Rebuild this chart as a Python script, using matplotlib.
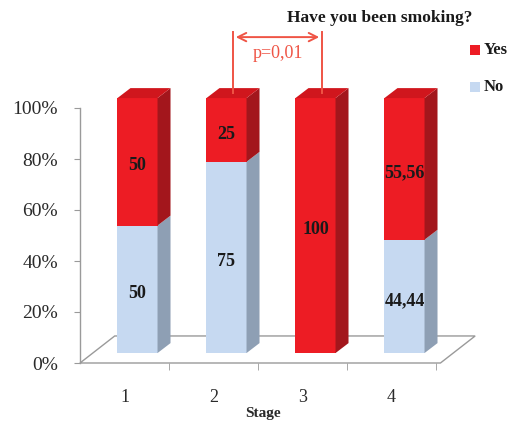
import matplotlib
matplotlib.use("Agg")
import matplotlib.pyplot as plt
from matplotlib.patches import Polygon
from matplotlib.ticker import FixedLocator

plt.rcParams['font.family'] = ['Liberation Serif', 'DejaVu Serif']

stages = ["1", "2", "3", "4"]
yes_vals = [50, 25, 100, 55.56]
no_vals = [50, 75, 0, 44.44]
yes_labels = ["50", "25", "100", "55,56"]
no_labels = ["50", "75", "", "44,44"]
y_ticks = [0, 20, 40, 60, 80, 100]

RED = '#ED1C24'
RED_SIDE = '#A3161C'
RED_TOP = '#D0161D'
BLUE = '#C6D9F1'
BLUE_SIDE = '#8E9FB4'
AXIS = '#9A9A9A'
TXT = '#2a2a2a'

fig = plt.figure(figsize=(5.13, 4.22), dpi=100)
ax = fig.add_axes([80 / 513, 59 / 422, 356 / 513, 255 / 422])
ax.set_xlim(-0.5, 3.5)
ax.set_ylim(0, 100)

# pseudo-3D depth (data units)
dx, dy = 0.146, 3.9
width = 0.45
floor_dx, floor_dy = 0.39, 10.6
label_shift = 1.6

# floor
floor = Polygon([(-0.5, 0), (3.55, 0), (3.55 + floor_dx, floor_dy), (-0.5 + floor_dx, floor_dy)],
                closed=True, facecolor='white', edgecolor=AXIS, lw=1.0, clip_on=False, zorder=1)
ax.add_patch(floor)


def draw_segment(xc, y0, y1, front, side):
    xl, xr = xc - width / 2, xc + width / 2
    ax.add_patch(Polygon([(xl, y0), (xr, y0), (xr, y1), (xl, y1)], closed=True,
                         facecolor=front, edgecolor='none', clip_on=False, zorder=3))
    ax.add_patch(Polygon([(xr, y0), (xr + dx, y0 + dy), (xr + dx, y1 + dy), (xr, y1)], closed=True,
                         facecolor=side, edgecolor='none', clip_on=False, zorder=3))


for i in range(len(stages)):
    xc = i + dx
    base = dy
    n, y = no_vals[i], yes_vals[i]
    if n > 0:
        draw_segment(xc, base, base + n, BLUE, BLUE_SIDE)
        ax.text(xc, base + n / 2 - label_shift, no_labels[i], ha='center', va='center',
                fontsize=13, fontweight='bold', color='#1a1a1a', zorder=5)
    draw_segment(xc, base + n, base + n + y, RED, RED_SIDE)
    ax.text(xc, base + n + y / 2 - label_shift, yes_labels[i], ha='center', va='center',
            fontsize=13, fontweight='bold', color='#1a1a1a', zorder=5)
    top = base + n + y
    xl, xr = xc - width / 2, xc + width / 2
    ax.add_patch(Polygon([(xl, top), (xr, top), (xr + dx, top + dy), (xl + dx, top + dy)], closed=True,
                         facecolor=RED_TOP, edgecolor='none', clip_on=False, zorder=3))

# axes styling
for s in ['top', 'right', 'bottom']:
    ax.spines[s].set_visible(False)
ax.spines['left'].set_color(AXIS)
ax.spines['left'].set_linewidth(1.0)
ax.set_yticks(y_ticks)
ax.set_yticklabels([f"{t}%" for t in y_ticks], fontsize=14, color=TXT)
ax.tick_params(axis='y', length=4, color=AXIS, pad=12)
ax.set_xticks(range(len(stages)))
ax.set_xticklabels(stages, fontsize=13, color=TXT)
ax.tick_params(axis='x', which='major', length=0, pad=19)
ax.xaxis.set_minor_locator(FixedLocator([0.5, 1.5, 2.5, 3.5]))
ax.tick_params(axis='x', which='minor', length=5, color=AXIS, direction='out')
fig.text(263 / 513, 1 - 413 / 422, "Stage", ha='center', va='center',
         fontsize=11, fontweight='bold', color=TXT)

# significance bracket between stages 2 and 3
red_line = '#EF5445'
x2 = 1 + dx + dx / 2
x3 = 2 + dx + dx / 2
top_y = 100 + dy + dy / 2
bracket_y = 127.8
ax.plot([x2, x2], [top_y, bracket_y + 2], color=red_line, lw=1.4, clip_on=False, zorder=6)
ax.plot([x3, x3], [top_y, bracket_y + 2], color=red_line, lw=1.4, clip_on=False, zorder=6)
ax.annotate("", xy=(x2, bracket_y), xytext=(x3, bracket_y),
            arrowprops=dict(arrowstyle='<->', color=red_line, lw=1.4, mutation_scale=15),
            annotation_clip=False, zorder=6)
ax.text((x2 + x3) / 2, 121.4, "p=0,01", ha='center', va='center', fontsize=13,
        color=red_line, zorder=6)

# title and legend
fig.text(380 / 513, 1 - 18 / 422, "Have you been smoking?", ha='center', va='center',
         fontsize=12.5, fontweight='bold', color='#1a1a1a')
fig.patches.append(plt.Rectangle((470 / 513, 1 - 55 / 422), 10 / 513, 10 / 422,
                                 transform=fig.transFigure, facecolor=RED, edgecolor='none'))
fig.text(484 / 513, 1 - 50 / 422, "Yes", ha='left', va='center', fontsize=12,
         fontweight='bold', color='#1a1a1a')
fig.patches.append(plt.Rectangle((470 / 513, 1 - 92 / 422), 10 / 513, 10 / 422,
                                 transform=fig.transFigure, facecolor=BLUE, edgecolor='none'))
fig.text(484 / 513, 1 - 87 / 422, "No", ha='left', va='center', fontsize=12,
         fontweight='bold', color='#1a1a1a')

fig.savefig("out.png", dpi=100)
